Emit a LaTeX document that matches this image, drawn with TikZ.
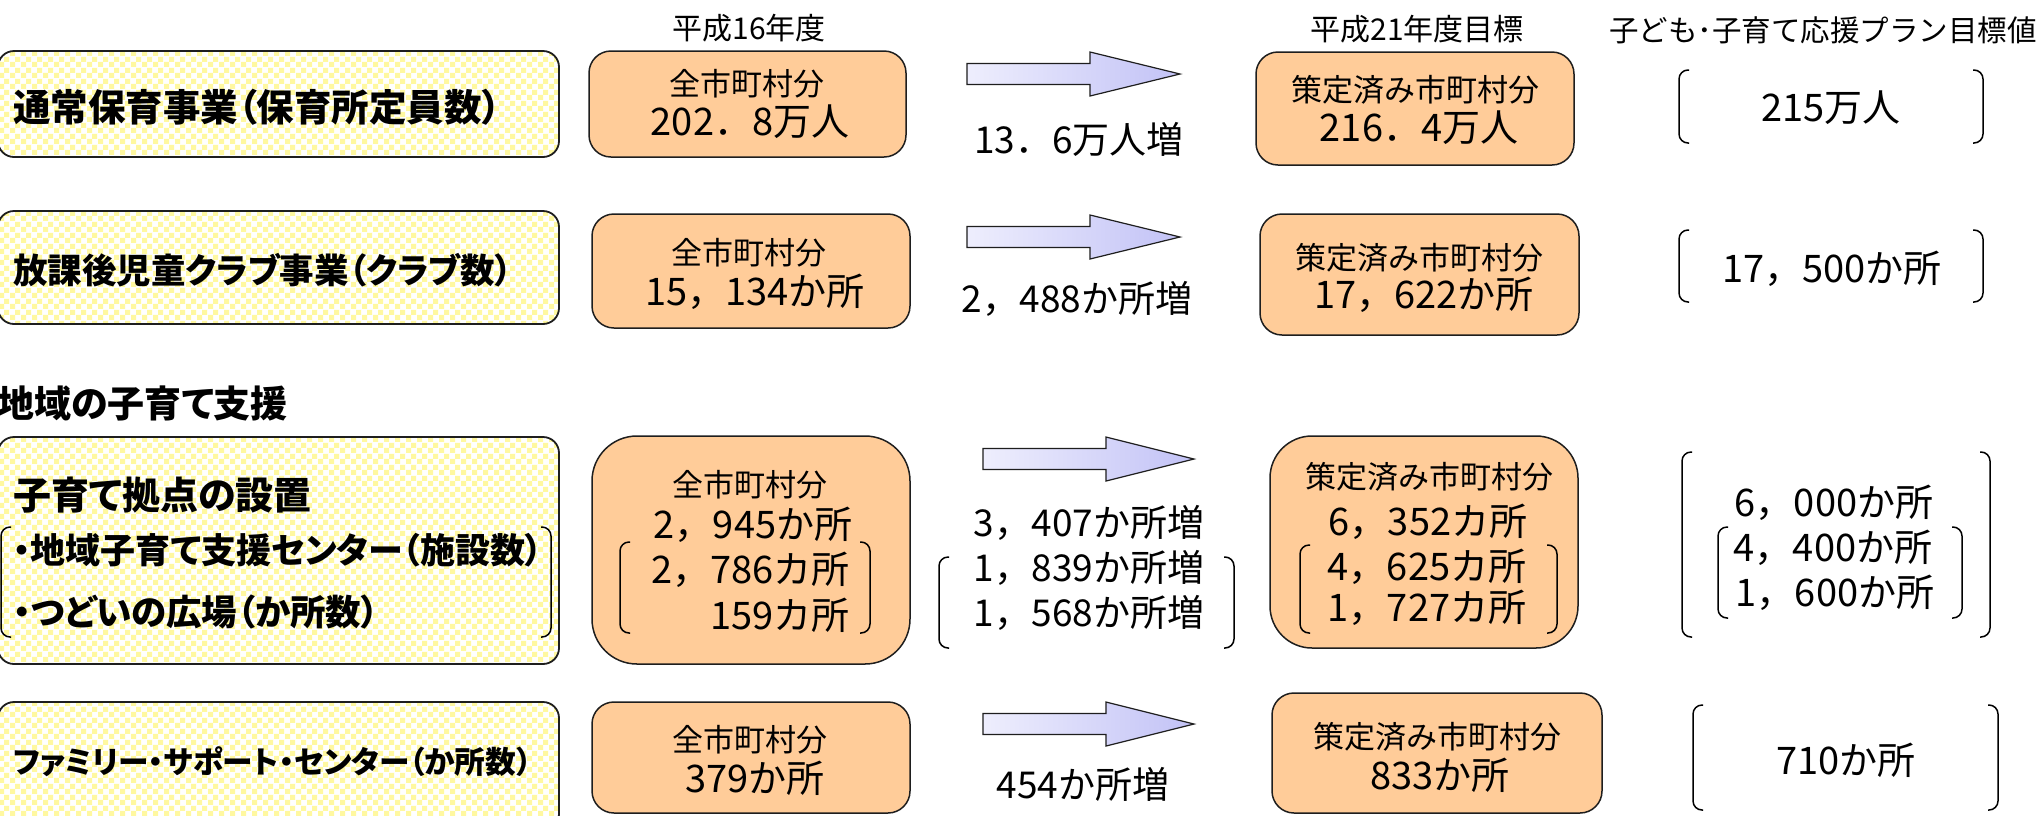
\documentclass[tikz,border=0pt]{standalone}
\usepackage{fontspec}
\newfontfamily\jp{Noto Sans CJK JP}
\newfontfamily\jpp{Noto Sans CJK JP}[RawFeature=+palt]
\usetikzlibrary{patterns.meta}
\newcommand\fs[1]{\fontsize{#1}{#1}\selectfont}
\definecolor{orangeF}{RGB}{255,204,153}
\definecolor{chkY}{RGB}{255,248,160}
\definecolor{arrL}{RGB}{238,238,253}
\definecolor{arrR}{RGB}{194,194,246}
\definecolor{boxline}{RGB}{30,30,30}
\tikzdeclarepattern{
  name=chk,
  type=uncolored,
  bounding box={(0pt,0pt) and (11pt,11pt)},
  tile size={(11pt,11pt)},
  code={\fill (0pt,0pt) rectangle (5.5pt,5.5pt); \fill (5.5pt,5.5pt) rectangle (11pt,11pt);}
}
\tikzset{
  ybox/.style={draw=boxline, line width=1.8pt, rounded corners=16pt, preaction={fill=white}, pattern=chk, pattern color=chkY, inner sep=0pt},
  obox/.style={draw=boxline, line width=1.5pt, rounded corners=#1, fill=orangeF, inner sep=0pt},
  obox/.default=22pt,
  bl/.style={font=\jpp\bfseries\fs{#1}, anchor=west, inner sep=0pt},
  nt/.style={font=\jp\fs{#1}, inner sep=0pt},
  barr/.style={draw=boxline, line width=1.2pt, left color=arrL, right color=arrR},
  brkl/.style={draw=black, line width=1.5pt, rounded corners=9pt}
}
\newcommand\blockarr[4]{%
  \draw[barr] (#1,#4-10.5) -- (#2,#4-10.5) -- (#2,#4-22) -- (#3,#4) -- (#2,#4+22) -- (#2,#4+10.5) -- (#1,#4+10.5) -- cycle;}
\newcommand\brk[4]{%
  \draw[brkl] (#1+10,#3) -- (#1,#3) -- (#1,#4) -- (#1+10,#4);
  \draw[brkl] (#2-10,#3) -- (#2,#3) -- (#2,#4) -- (#2-10,#4);}
\begin{document}
\begin{tikzpicture}[x=1pt,y=-1pt]
\path[use as bounding box] (0,0) rectangle (2038,815);
\clip (0,0) rectangle (2038,815);
\fill[white] (0,0) rectangle (2038,815);

% headers
\node[nt=30] (h16) at (749,28) {平成16年度};
\node[nt=30] (h21) at (1417,29) {平成21年度目標};
\node[nt=29.5, anchor=east] (hplan) at (2037,30) {子ども･子育て応援プラン目標値};

% left yellow boxes
\node[ybox, minimum width=561pt, minimum height=106pt] (y1) at (278.5,104) {};
\node[ybox, minimum width=561pt, minimum height=113pt] (y2) at (278.5,267.5) {};
\node[ybox, minimum width=561pt, minimum height=227pt] (y3) at (278.5,550.5) {};
\node[ybox, minimum width=561pt, minimum height=128pt] (y4) at (278.5,766) {};

\node[bl=37.5] (t1) at (13,107) {通常保育事業（保育所定員数）};
\node[bl=34.5] (t2) at (13,270) {放課後児童クラブ事業（クラブ数）};
\node[bl=37] (sec) at (-3,403) {地域の子育て支援};
\node[bl=38] (t3) at (13,495) {子育て拠点の設置};
\node[bl=35] (t3a) at (13,550) {・地域子育て支援センター（施設数）};
\node[bl=35.5] (t3b) at (13,612) {・つどいの広場（か所数）};
\node[bl=30.7] (t4) at (13,762) {ファミリー・サポート・センター（か所数）};
\brk{1}{551}{527}{637}

% column 2 boxes
\node[obox, minimum width=317pt, minimum height=106pt] (o1) at (747.5,104) {};
\node[obox, minimum width=318pt, minimum height=114pt] (o2) at (751,271) {};
\node[obox=45pt, minimum width=318pt, minimum height=228pt] (o3) at (751,550) {};
\node[obox, minimum width=318pt, minimum height=111pt] (o4) at (751,757.5) {};

\node[nt=31] (o1a) at (747,84) {全市町村分};
\node[nt=38] (o1b) at (750,122) {202．8万人};
\node[nt=31] (o2a) at (749,253) {全市町村分};
\node[nt=38] (o2b) at (755,292) {15，134か所};
\node[nt=31] (o3a) at (750,485) {全市町村分};
\node[nt=38] (o3b) at (753,525) {2，945か所};
\node[nt=38, anchor=east] (o3c) at (850,570) {2，786カ所};
\node[nt=38, anchor=east] (o3d) at (850,615) {159カ所};
\brk{620}{870}{542}{633}
\node[nt=31] (o4a) at (750,740) {全市町村分};
\node[nt=38] (o4b) at (755,778) {379か所};

% arrows
\blockarr{967}{1090}{1180}{74}
\blockarr{967}{1090}{1180}{237}
\blockarr{983}{1106}{1194}{459}
\blockarr{983}{1106}{1194}{724}

\node[nt=37] (l1) at (1079,139) {13．6万人増};
\node[nt=37] (l2) at (1077,299) {2，488か所増};
\node[nt=37] (l3a) at (1089,523) {3，407か所増};
\node[nt=37] (l3b) at (1089,568) {1，839か所増};
\node[nt=37] (l3c) at (1089,613) {1，568か所増};
\brk{939}{1234}{557}{648}
\node[nt=37] (l4) at (1083,784) {454か所増};

% column 4 boxes
\node[obox, minimum width=318pt, minimum height=113pt] (p1) at (1415,108.5) {};
\node[obox, minimum width=319pt, minimum height=121pt] (p2) at (1419.5,274.5) {};
\node[obox=42pt, minimum width=308pt, minimum height=212pt] (p3) at (1424,542) {};
\node[obox, minimum width=330pt, minimum height=120pt] (p4) at (1437,753) {};

\node[nt=31] (p1a) at (1415,90) {策定済み市町村分};
\node[nt=38] (p1b) at (1419,128) {216．4万人};
\node[nt=31] (p2a) at (1419,258) {策定済み市町村分};
\node[nt=38] (p2b) at (1424,295) {17，622か所};
\node[nt=31] (p3a) at (1429,477) {策定済み市町村分};
\node[nt=38] (p3b) at (1428,522) {6，352カ所};
\node[nt=38] (p3c) at (1427,567) {4，625カ所};
\node[nt=38] (p3d) at (1427,608) {1，727カ所};
\brk{1300}{1557}{545}{633}
\node[nt=31] (p4a) at (1437,737) {策定済み市町村分};
\node[nt=38] (p4b) at (1440,775) {833か所};

% column 5
\brk{1679}{1983}{70}{143}
\node[nt=38] (c1) at (1831,108) {215万人};
\brk{1679}{1983}{230}{302}
\node[nt=38] (c2) at (1832,269) {17，500か所};
\brk{1682}{1990}{452}{637}
\brk{1718}{1962}{527}{618}
\node[nt=38] (c3a) at (1834,503) {6，000か所};
\node[nt=38] (c3b) at (1833,548) {4，400か所};
\node[nt=38] (c3c) at (1835,593) {1，600か所};
\brk{1693}{1998}{705}{810}
\node[nt=38] (c4) at (1846,760) {710か所};
\end{tikzpicture}
\end{document}
